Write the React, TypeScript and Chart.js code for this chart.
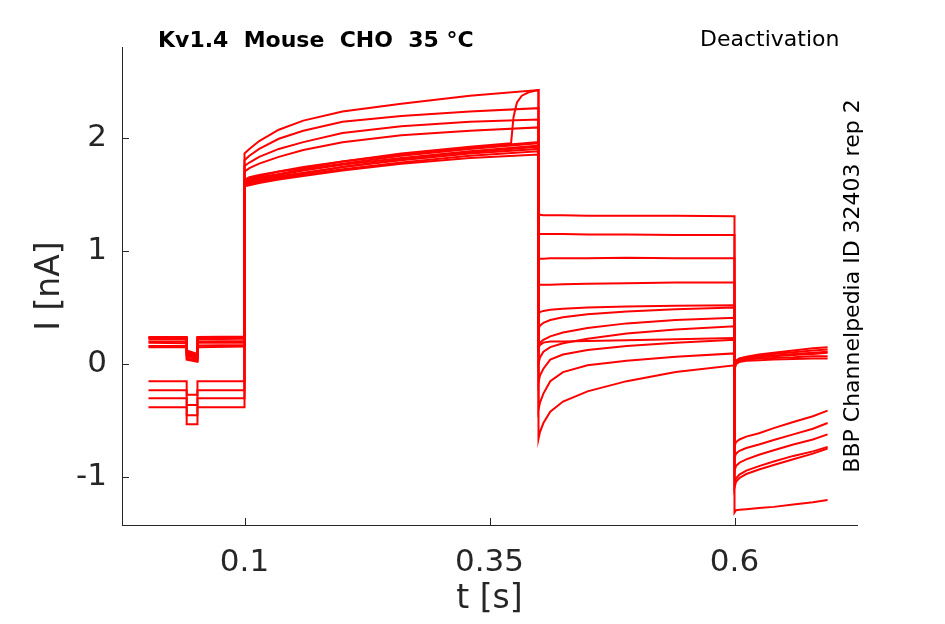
import { useEffect, useRef } from 'react'
import { Chart, registerables } from 'chart.js'

Chart.register(...registerables)

// axis ticks
const X_TICKS = [0.1, 0.35, 0.6]
const Y_TICKS = [-1, 0, 1, 2]

// holding period with the short test pulse
const holdT = [0.002, 0.041, 0.041, 0.052, 0.052, 0.1]
const holding = [
  [0.24, 0.24, 0.12, 0.09, 0.24, 0.245],
  [0.235, 0.235, 0.11, 0.08, 0.235, 0.24],
  [0.23, 0.225, 0.1, 0.07, 0.23, 0.23],
  [0.22, 0.22, 0.09, 0.06, 0.22, 0.225],
  [0.2, 0.2, 0.08, 0.05, 0.2, 0.205],
  [0.19, 0.185, 0.07, 0.04, 0.19, 0.19],
  [0.16, 0.16, 0.05, 0.03, 0.165, 0.17],
  [0.15, 0.15, 0.04, 0.02, 0.15, 0.155],
  [-0.15, -0.15, -0.27, -0.27, -0.15, -0.15],
  [-0.23, -0.23, -0.36, -0.36, -0.23, -0.23],
  [-0.3, -0.3, -0.45, -0.45, -0.3, -0.3],
  [-0.38, -0.38, -0.53, -0.53, -0.38, -0.38]
]

// activation step
const actT = [0.1, 0.105, 0.115, 0.135, 0.16, 0.2, 0.26, 0.33, 0.4]
const activation = [
  [1.57, 1.58, 1.6, 1.63, 1.66, 1.71, 1.77, 1.82, 1.85],
  [1.58, 1.59, 1.61, 1.64, 1.67, 1.72, 1.78, 1.84, 1.88],
  [1.6, 1.61, 1.63, 1.66, 1.69, 1.74, 1.8, 1.86, 1.9],
  [1.59, 1.6, 1.62, 1.65, 1.68, 1.74, 1.81, 1.87, 1.92],
  [1.61, 1.62, 1.64, 1.67, 1.71, 1.76, 1.82, 1.88, 1.93],
  [1.62, 1.63, 1.65, 1.68, 1.72, 1.77, 1.84, 1.9, 1.95],
  [1.63, 1.64, 1.66, 1.7, 1.73, 1.79, 1.85, 1.91, 1.96],
  [1.63, 1.65, 1.67, 1.7, 1.74, 1.79, 1.86, 1.92, 1.96],
  [1.7, 1.73, 1.77, 1.83, 1.89, 1.96, 2.02, 2.06, 2.09],
  [1.75, 1.78, 1.83, 1.9, 1.96, 2.04, 2.1, 2.14, 2.16],
  [1.8, 1.84, 1.9, 1.99, 2.06, 2.14, 2.19, 2.23, 2.26],
  [1.86, 1.9, 1.97, 2.07, 2.15, 2.23, 2.3, 2.37, 2.42]
]

// one sweep jumps up shortly before the end of the step
const JUMP_TRACE = 7
const jumpT = [0.372, 0.3745, 0.378, 0.383, 0.39, 0.4]
const jumpI = [1.95, 2.18, 2.31, 2.37, 2.4, 2.42]

// deactivation steps
const deacT = [0.4, 0.4015, 0.405, 0.412, 0.425, 0.45, 0.49, 0.54, 0.6]
const deactivation = [
  [-0.66, -0.6, -0.52, -0.42, -0.33, -0.24, -0.15, -0.07, -0.01],
  [-0.4, -0.34, -0.26, -0.15, -0.07, -0.01, 0.03, 0.065, 0.095],
  [-0.16, -0.1, -0.04, 0.04, 0.085, 0.125, 0.16, 0.19, 0.215],
  [0.14, 0.17, 0.19, 0.2, 0.2, 0.205, 0.21, 0.22, 0.23],
  [0.0, 0.06, 0.11, 0.15, 0.185, 0.225, 0.27, 0.305, 0.335],
  [0.16, 0.19, 0.215, 0.245, 0.28, 0.32, 0.36, 0.39, 0.41],
  [0.31, 0.34, 0.365, 0.39, 0.415, 0.44, 0.465, 0.485, 0.5],
  [0.44, 0.46, 0.47, 0.48, 0.49, 0.5, 0.51, 0.515, 0.52],
  [0.7, 0.7, 0.7, 0.7, 0.705, 0.71, 0.715, 0.72, 0.72],
  [0.93, 0.93, 0.93, 0.935, 0.935, 0.935, 0.94, 0.935, 0.935],
  [1.15, 1.15, 1.15, 1.15, 1.15, 1.145, 1.145, 1.14, 1.14],
  [1.32, 1.32, 1.315, 1.315, 1.315, 1.31, 1.31, 1.31, 1.305]
]

// tail step
const tailT = [0.6, 0.6015, 0.605, 0.612, 0.625, 0.64, 0.66, 0.68, 0.695]
const tail = [
  [-0.05, 0.0, 0.02, 0.03, 0.035, 0.04, 0.045, 0.05, 0.05],
  [-0.04, 0.01, 0.03, 0.04, 0.05, 0.055, 0.06, 0.07, 0.07],
  [-0.03, 0.02, 0.03, 0.05, 0.06, 0.07, 0.08, 0.09, 0.1],
  [-0.03, 0.02, 0.04, 0.05, 0.065, 0.075, 0.09, 0.1, 0.11],
  [-0.02, 0.03, 0.045, 0.06, 0.075, 0.09, 0.105, 0.12, 0.13],
  [-0.02, 0.03, 0.05, 0.065, 0.085, 0.1, 0.12, 0.14, 0.15],
  [-0.73, -0.69, -0.665, -0.64, -0.61, -0.565, -0.51, -0.46, -0.41],
  [-0.83, -0.79, -0.765, -0.74, -0.71, -0.67, -0.62, -0.57, -0.52],
  [-0.94, -0.9, -0.87, -0.84, -0.8, -0.76, -0.71, -0.665, -0.62],
  [-1.06, -1.01, -0.975, -0.94, -0.9, -0.86, -0.81, -0.77, -0.73],
  [-1.09, -1.04, -1.005, -0.97, -0.93, -0.89, -0.84, -0.79, -0.745],
  [-1.31, -1.29, -1.285, -1.28, -1.27, -1.26, -1.24, -1.22, -1.2]
]

const AXIS_COLOR = '#262626'
const FONT = "'DejaVu Sans', sans-serif"

const toPoints = (t: number[], v: number[]) => t.map((x, i) => ({ x, y: v[i] }))

function buildTrace(i: number) {
  let act = toPoints(actT, activation[i])
  if (i === JUMP_TRACE) {
    act = act.filter(p => p.x <= 0.33).concat(toPoints(jumpT, jumpI))
  }
  return [
    ...toPoints(holdT, holding[i]),
    ...act,
    ...toPoints(deacT, deactivation[i]),
    ...toPoints(tailT, tail[i])
  ]
}

const decorations = {
  id: 'decorations',
  afterDraw(chart: Chart) {
    const { ctx, chartArea } = chart
    const xs = chart.scales.x
    const ys = chart.scales.y
    ctx.save()

    // inward ticks
    ctx.strokeStyle = AXIS_COLOR
    ctx.lineWidth = 1
    ctx.beginPath()
    Y_TICKS.forEach(v => {
      const py = Math.round(ys.getPixelForValue(v)) + 0.5
      ctx.moveTo(chartArea.left, py)
      ctx.lineTo(chartArea.left + 7, py)
    })
    X_TICKS.forEach(v => {
      const px = Math.round(xs.getPixelForValue(v)) + 0.5
      ctx.moveTo(px, chartArea.bottom)
      ctx.lineTo(px, chartArea.bottom - 7)
    })
    ctx.stroke()

    const midY = (chartArea.top + chartArea.bottom) / 2
    const midX = (chartArea.left + chartArea.right) / 2

    // axis titles
    ctx.fillStyle = AXIS_COLOR
    ctx.font = `33px ${FONT}`
    ctx.textBaseline = 'alphabetic'
    ctx.textAlign = 'center'
    ctx.fillText('t [s]', midX, 608)
    ctx.save()
    ctx.translate(59, midY)
    ctx.rotate(-Math.PI / 2)
    ctx.fillText('I [nA]', 0, 0)
    ctx.restore()

    // header texts
    ctx.fillStyle = '#000'
    ctx.textAlign = 'left'
    ctx.font = `bold 22px ${FONT}`
    ctx.fillText('Kv1.4  Mouse  CHO  35 °C', 158, 47)
    ctx.font = `22px ${FONT}`
    ctx.fillText('Deactivation', 700, 46)

    ctx.save()
    ctx.translate(859, midY)
    ctx.rotate(-Math.PI / 2)
    ctx.textAlign = 'center'
    ctx.fillText('BBP Channelpedia ID 32403 rep 2', 0, 0)
    ctx.restore()

    ctx.restore()
  }
}

function TraceChart() {
  const chartRef = useRef<HTMLCanvasElement>(null)
  const chartInstance = useRef<Chart | null>(null)

  useEffect(() => {
    if (!chartRef.current) return
    if (chartInstance.current) chartInstance.current.destroy()

    const datasets = holding.map((_, i) => ({
      data: buildTrace(i),
      borderColor: '#ff0000',
      borderWidth: 2,
      pointRadius: 0,
      fill: false,
      tension: 0
    }))

    chartInstance.current = new Chart(chartRef.current, {
      type: 'line',
      data: { datasets },
      options: {
        animation: false,
        responsive: false,
        maintainAspectRatio: false,
        layout: { padding: { top: 47, right: 88, left: 0, bottom: 0 } },
        plugins: {
          legend: { display: false },
          tooltip: { enabled: false }
        },
        scales: {
          x: {
            type: 'linear',
            min: -0.025,
            max: 0.725,
            afterBuildTicks: (scale: any) => {
              scale.ticks = X_TICKS.map(value => ({ value }))
            },
            afterFit: (scale: any) => {
              scale.height = 99
            },
            ticks: {
              autoSkip: false,
              maxRotation: 0,
              padding: 19,
              color: AXIS_COLOR,
              font: { family: FONT, size: 31 },
              callback: (v: any) => String(v)
            },
            grid: { drawOnChartArea: false, drawTicks: false },
            border: { display: true, color: AXIS_COLOR, width: 1 }
          },
          y: {
            type: 'linear',
            min: -1.42,
            max: 2.8,
            afterBuildTicks: (scale: any) => {
              scale.ticks = Y_TICKS.map(value => ({ value }))
            },
            afterFit: (scale: any) => {
              scale.width = 122
            },
            ticks: {
              autoSkip: false,
              padding: 15,
              color: AXIS_COLOR,
              font: { family: FONT, size: 31 },
              callback: (v: any) => String(v)
            },
            grid: { drawOnChartArea: false, drawTicks: false },
            border: { display: true, color: AXIS_COLOR, width: 1 }
          }
        }
      },
      plugins: [decorations]
    })

    return () => {
      if (chartInstance.current) {
        chartInstance.current.destroy()
        chartInstance.current = null
      }
    }
  }, [])

  return <canvas ref={chartRef} width={945} height={624} style={{ display: 'block' }} />
}

export default function App() {
  useEffect(() => {
    document.body.style.margin = '0'
  }, [])
  return (
    <div style={{ width: 945, height: 624, background: '#fff' }}>
      <TraceChart />
    </div>
  )
}
